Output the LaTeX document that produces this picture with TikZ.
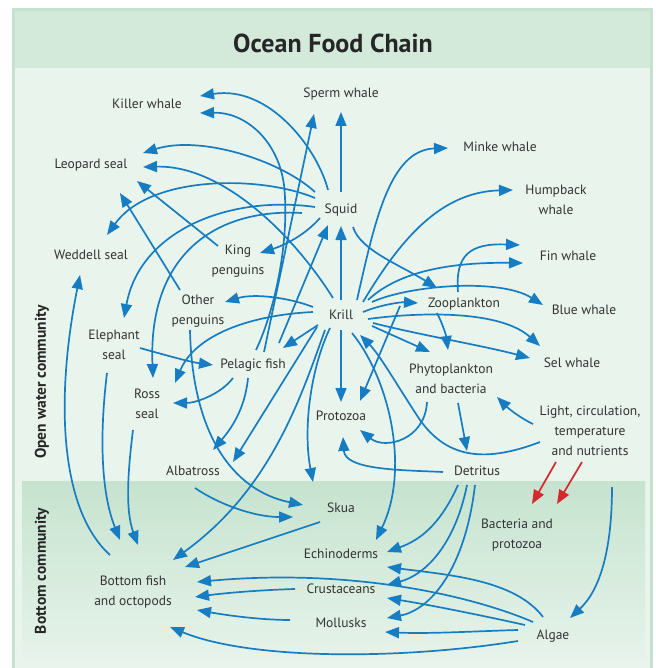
\documentclass[tikz,border=0pt]{standalone}
\usepackage{fontspec}
\setmainfont{PT Sans}
\usetikzlibrary{arrows.meta}
\definecolor{arr}{HTML}{167DC3}
\definecolor{redarr}{HTML}{D42A2E}
\definecolor{txt}{HTML}{333333}
\definecolor{band}{HTML}{D3EADA}
\definecolor{body}{HTML}{E8F4EC}
\definecolor{frame}{HTML}{C6E2CE}
\definecolor{btop}{HTML}{C6E3CF}
\definecolor{bbot}{HTML}{E6F3EA}
\begin{document}
\begin{tikzpicture}[x=1pt,y=-1pt,
  lbl/.style={font=\fontsize{13.5}{20}\selectfont, text=txt, align=center, inner sep=0pt},
  side/.style={font=\bfseries\fontsize{15.5}{18}\selectfont, text=black!85, rotate=90, inner sep=0pt},
  ar/.style={draw=arr, line width=1.7pt, -{Triangle[length=14pt,width=11pt]}},
  rar/.style={draw=redarr, line width=1.7pt, -{Triangle[length=14pt,width=11pt]}}]
\useasboundingbox (0,0) rectangle (655,668);
\fill[white] (0,0) rectangle (655,668);
% frame and backgrounds
\fill[frame] (12,8) rectangle (653,668);
\fill[body] (15,11) rectangle (650,668);
\fill[band] (15,11) rectangle (650,68);
\shade[top color=btop, bottom color=bbot] (22,481) rectangle (645,658);
\node[font=\bfseries\fontsize{26}{30}\selectfont, text=black!85] (title) at (333,43) {Ocean Food Chain};
\node[side] (openw) at (42,382) {Open water community};
\node[side] (bottomc) at (42,571) {Bottom community};
% nodes
\node[lbl] (killer) at (147,104) {Killer whale};
\node[lbl] (sperm) at (341,94) {Sperm whale};
\node[lbl] (minke) at (500,147) {Minke whale};
\node[lbl] (humpback) at (556,200) {Humpback\\whale};
\node[lbl] (leopard) at (91,165) {Leopard seal};
\node[lbl] (squid) at (341,210) {Squid};
\node[lbl] (king) at (238,261) {King\\penguins};
\node[lbl] (fin) at (568,256) {Fin whale};
\node[lbl] (weddell) at (91,255) {Weddell seal};
\node[lbl] (otherp) at (198,311) {Other\\penguins};
\node[lbl] (krill) at (341,315) {Krill};
\node[lbl] (zoo) at (464,304) {Zooplankton};
\node[lbl] (blue) at (584,310) {Blue whale};
\node[lbl] (elephant) at (114,345) {Elephant\\seal};
\node[lbl] (pelagic) at (253,365) {Pelagic fish};
\node[lbl] (sel) at (572,363) {Sel whale};
\node[lbl] (phyto) at (451,379) {Phytoplankton\\and bacteria};
\node[lbl] (ross) at (147,404) {Ross\\seal};
\node[lbl] (protozoa) at (341,416) {Protozoa};
\node[lbl] (light) at (590,431) {Light, circulation,\\temperature\\and nutrients};
\node[lbl] (albatross) at (193,471) {Albatross};
\node[lbl] (detritus) at (477,471) {Detritus};
\node[lbl] (skua) at (341,508) {Skua};
\node[lbl] (bact) at (517,535) {Bacteria and\\protozoa};
\node[lbl] (echino) at (341,554) {Echinoderms};
\node[lbl] (bottomfish) at (133,592) {Bottom fish\\and octopods};
\node[lbl] (crust) at (341,589) {Crustaceans};
\node[lbl] (mollusks) at (341,623) {Mollusks};
\node[lbl] (algae) at (553,636) {Algae};
% connectors
\draw[ar] ([shift={(0,-18)}]squid.center) -- ([shift={(0,18)}]sperm.center);
\draw[ar] ([shift={(-13,-20)}]squid.center) .. controls (318,150) and (270,85) .. ([shift={(53,-8)}]killer.center);
\draw[ar] ([shift={(3,-15)}]pelagic.center) .. controls (275,310) and (290,240) .. (284,185) .. controls (278,140) and (245,112) .. ([shift={(53,9)}]killer.center);
\draw[ar] ([shift={(11,-13)}]pelagic.center) -- ([shift={(-27,20)}]sperm.center);
\draw[ar] ([shift={(-26,-18)}]squid.center) .. controls (280,160) and (200,135) .. ([shift={(52,-12)}]leopard.center);
\draw[ar] ([shift={(-8,-17)}]krill.center) .. controls (290,230) and (220,165) .. ([shift={(52,2)}]leopard.center);
\draw[ar] ([shift={(-20,-15)}]king.center) -- ([shift={(46,16)}]leopard.center);
\draw[ar] ([shift={(-18,-21)}]otherp.center) -- ([shift={(29,28)}]leopard.center);
\draw[ar] ([shift={(-26,-12)}]squid.center) .. controls (260,175) and (150,175) .. ([shift={(16,-20)}]weddell.center);
\draw[ar] ([shift={(-26,-3)}]squid.center) .. controls (230,195) and (140,230) .. ([shift={(10,-27)}]elephant.center);
\draw[ar] ([shift={(-39,3)}]squid.center) .. controls (215,208) and (148,255) .. ([shift={(6,-26)}]ross.center);
\draw[ar] ([shift={(-21,8)}]squid.center) .. controls (305,235) and (285,245) .. ([shift={(22,-8)}]king.center);
\draw[ar] ([shift={(0,-15)}]krill.center) -- ([shift={(0,16)}]squid.center);
\draw[ar] ([shift={(26,-22)}]pelagic.center) -- ([shift={(-13,15)}]squid.center);
\draw[ar] ([shift={(12,17)}]squid.center) .. controls (360,250) and (400,265) .. ([shift={(-27,-16)}]zoo.center);
\draw[ar] ([shift={(16,-15)}]krill.center) .. controls (375,220) and (390,150) .. ([shift={(-52,1)}]minke.center);
\draw[ar] ([shift={(22,-13)}]krill.center) .. controls (400,240) and (440,192) .. ([shift={(-43,-10)}]humpback.center);
\draw[ar] ([shift={(-6,-12)}]zoo.center) .. controls (455,255) and (470,243) .. ([shift={(-48,-11)}]fin.center);
\draw[ar] ([shift={(27,-15)}]krill.center) .. controls (395,275) and (440,262) .. ([shift={(-45,7)}]fin.center);
\draw[ar] ([shift={(22,-3)}]krill.center) .. controls (380,305) and (400,302) .. ([shift={(-46,-1)}]zoo.center);
\draw[ar] ([shift={(31,-13)}]krill.center) .. controls (410,285) and (500,278) .. ([shift={(-41,-5)}]blue.center);
\draw[ar] ([shift={(27,4)}]krill.center) .. controls (420,312) and (500,310) .. ([shift={(-32,-17)}]sel.center);
\draw[ar] ([shift={(32,8)}]krill.center) .. controls (420,335) and (480,345) .. ([shift={(-42,-5)}]sel.center);
\draw[ar] ([shift={(31,11)}]krill.center) -- ([shift={(-21,-27)}]phyto.center);
\draw[ar] ([shift={(-27,9)}]zoo.center) .. controls (443,325) and (446,335) .. ([shift={(-3,-29)}]phyto.center);
\draw[ar] ([shift={(-64,2)}]zoo.center) -- ([shift={(19,-15)}]protozoa.center);
\draw[ar] ([shift={(0,15)}]krill.center) -- ([shift={(0,-14)}]protozoa.center);
\draw[ar] ([shift={(-24,23)}]phyto.center) .. controls (425,440) and (385,450) .. ([shift={(19,14)}]protozoa.center);
\draw[ar] ([shift={(7,24)}]phyto.center) -- ([shift={(-10,-20)}]detritus.center);
\draw[ar] ([shift={(-57,-7)}]light.center) .. controls (520,418) and (508,408) .. ([shift={(46,18)}]phyto.center);
\draw[ar] ([shift={(-50,11)}]light.center) .. controls (480,465) and (445,455) .. (420,420) .. controls (400,390) and (380,355) .. ([shift={(19,20)}]krill.center);
\draw[ar] ([shift={(-34,1)}]detritus.center) .. controls (400,470) and (345,470) .. ([shift={(2,21)}]protozoa.center);
\draw[ar] ([shift={(11,18)}]krill.center) .. controls (390,380) and (410,470) .. ([shift={(35,-14)}]echino.center);
\draw[ar] ([shift={(-28,-8)}]krill.center) .. controls (290,298) and (255,293) .. ([shift={(27,-9)}]otherp.center);
\draw[ar] ([shift={(-28,-3)}]krill.center) .. controls (250,315) and (195,335) .. ([shift={(28,-21)}]ross.center);
\draw[ar] ([shift={(-23,10)}]krill.center) -- ([shift={(30,-17)}]pelagic.center);
\draw[ar] ([shift={(-24,12)}]krill.center) -- ([shift={(40,-9)}]albatross.center);
\draw[ar] ([shift={(-11,13)}]krill.center) .. controls (310,370) and (303,430) .. ([shift={(-28,-26)}]skua.center);
\draw[ar] ([shift={(-16,15)}]krill.center) .. controls (300,400) and (270,490) .. ([shift={(40,-32)}]bottomfish.center);
\draw[ar] ([shift={(-8,19)}]otherp.center) .. controls (192,430) and (230,490) .. ([shift={(-38,-3)}]skua.center);
\draw[ar] ([shift={(2,17)}]albatross.center) .. controls (220,505) and (255,517) .. ([shift={(-48,9)}]skua.center);
\draw[ar] ([shift={(-21,14)}]skua.center) -- ([shift={(52,-25)}]bottomfish.center);
\draw[ar] ([shift={(-20,13)}]pelagic.center) .. controls (220,395) and (195,403) .. ([shift={(26,-1)}]ross.center);
\draw[ar] ([shift={(-5,13)}]pelagic.center) .. controls (245,410) and (230,430) .. ([shift={(20,-21)}]albatross.center);
\draw[ar] ([shift={(26,3)}]elephant.center) .. controls (165,355) and (190,362) .. ([shift={(-40,0)}]pelagic.center);
\draw[ar] ([shift={(-23,-37)}]bottomfish.center) .. controls (60,510) and (55,400) .. ([shift={(-11,20)}]weddell.center);
\draw[ar] ([shift={(-7,28)}]elephant.center) .. controls (100,430) and (100,490) .. ([shift={(-13,-52)}]bottomfish.center);
\draw[ar] ([shift={(-14,26)}]ross.center) .. controls (128,470) and (125,510) .. ([shift={(5,-47)}]bottomfish.center);
\draw[ar] ([shift={(-19,14)}]detritus.center) .. controls (440,525) and (420,540) .. ([shift={(46,-2)}]echino.center);
\draw[ar] ([shift={(-10,14)}]detritus.center) .. controls (455,545) and (425,575) .. ([shift={(46,-4)}]crust.center);
\draw[ar] ([shift={(-2,14)}]detritus.center) .. controls (465,570) and (430,610) .. ([shift={(46,-5)}]mollusks.center);
\draw[ar] ([shift={(-10,-19)}]algae.center) .. controls (515,580) and (450,575) .. ([shift={(46,13)}]echino.center);
\draw[ar] ([shift={(-28,-11)}]algae.center) .. controls (480,615) and (430,605) .. ([shift={(46,9)}]crust.center);
\draw[ar] ([shift={(-35,-6)}]algae.center) .. controls (480,631) and (430,634) .. ([shift={(44,9)}]mollusks.center);
\draw[ar] ([shift={(-20,-14)}]algae.center) .. controls (470,595) and (350,568) .. ([shift={(64,-10)}]bottomfish.center);
\draw[ar] ([shift={(-46,0)}]crust.center) .. controls (260,590) and (225,593) .. ([shift={(62,5)}]bottomfish.center);
\draw[ar] ([shift={(-51,-3)}]mollusks.center) .. controls (260,620) and (225,615) .. ([shift={(64,18)}]bottomfish.center);
\draw[ar] ([shift={(-35,5)}]algae.center) .. controls (400,660) and (250,660) .. ([shift={(37,35)}]bottomfish.center);
\draw[ar] ([shift={(22,56)}]light.center) .. controls (612,550) and (600,590) .. ([shift={(17,-18)}]algae.center);
\draw[rar] ([shift={(-34,31)}]light.center) -- ([shift={(15,-31)}]bact.center);
\draw[rar] ([shift={(-8,31)}]light.center) -- ([shift={(40,-31)}]bact.center);
\end{tikzpicture}
\end{document}
